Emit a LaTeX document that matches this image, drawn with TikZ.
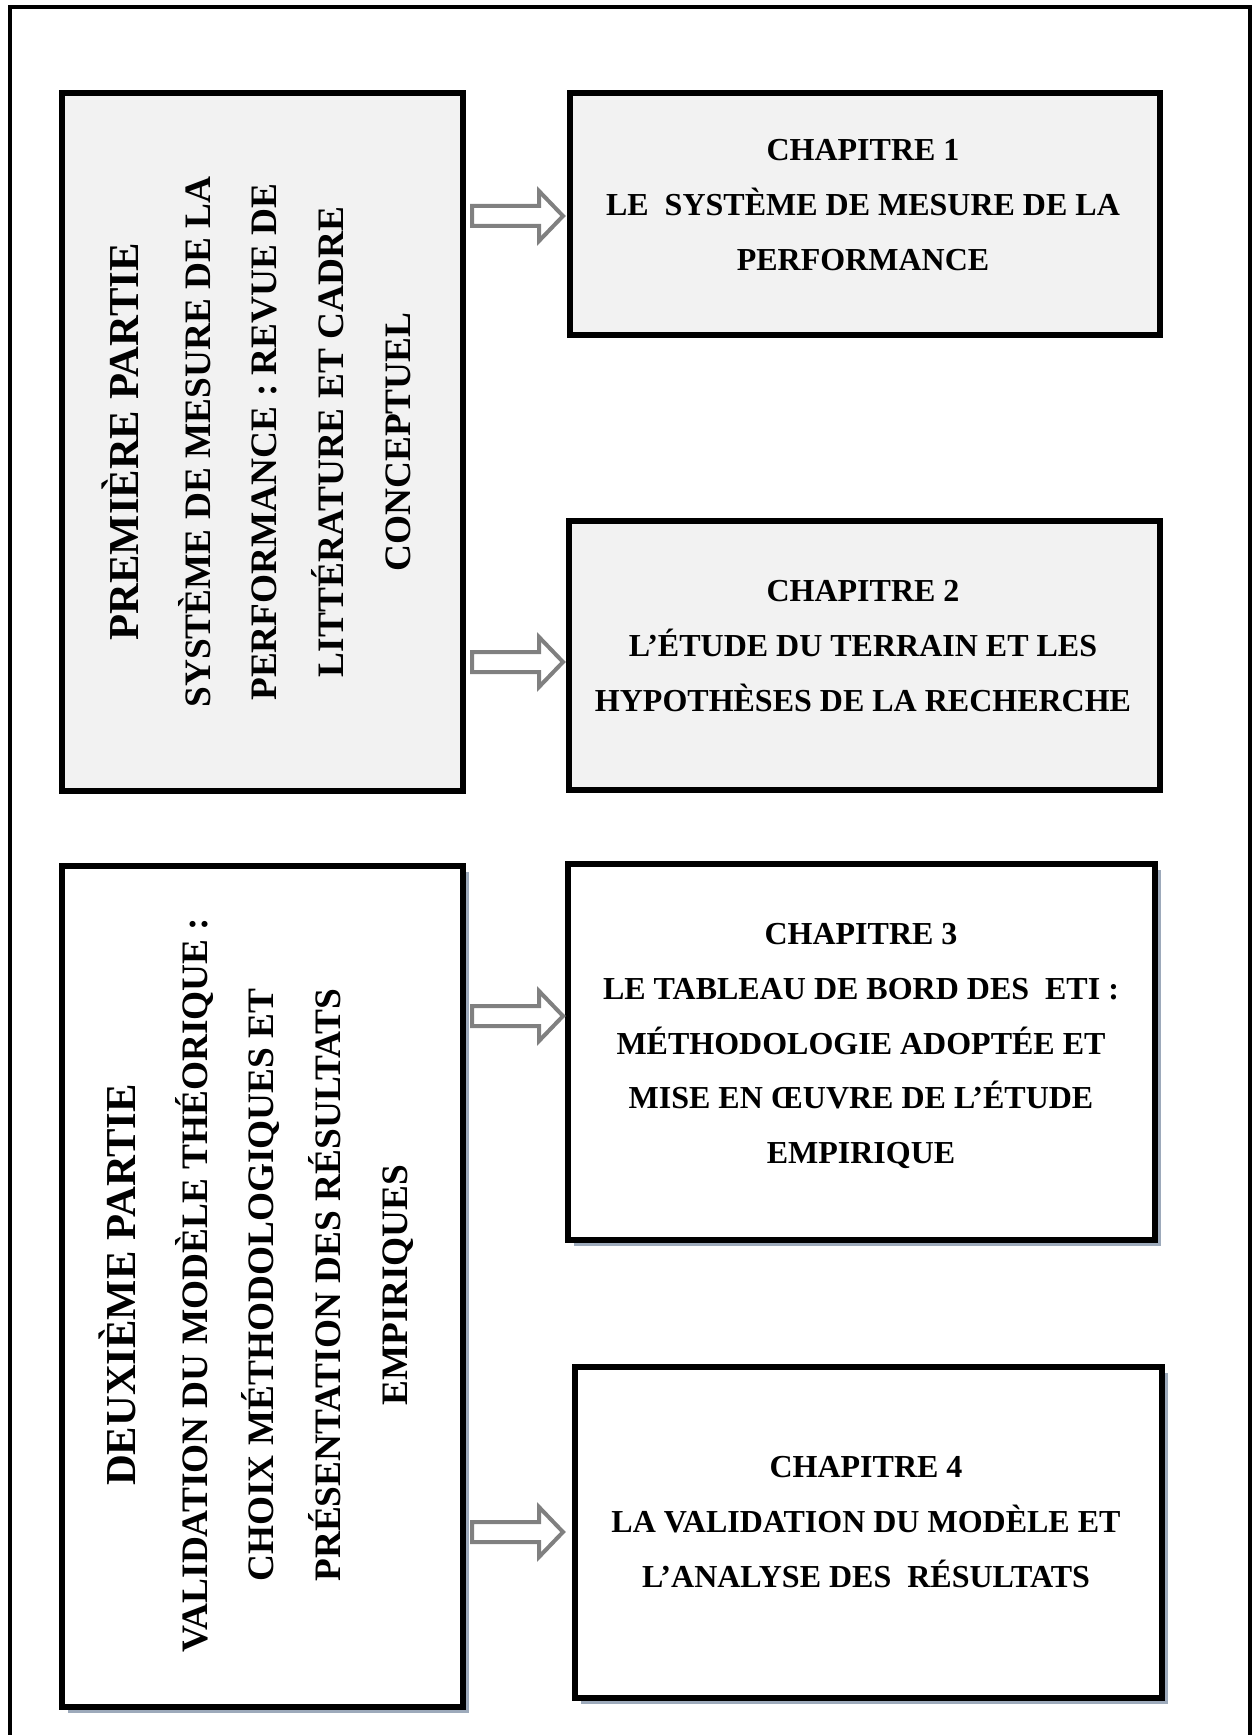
\documentclass[tikz,border=0pt]{standalone}
\usepackage{fontspec}
\setmainfont{Liberation Serif}
\usetikzlibrary{positioning,fit,calc,shadows}

\definecolor{boxgrey}{HTML}{F2F2F2}
\definecolor{arrowgrey}{HTML}{808080}
\definecolor{shadowblue}{HTML}{9DAABB}

% hollow block arrow between two named points
\newcommand{\blockarrow}[2]{%
  \draw[hollowarrow] ($(#1)+(0,-10)$) -- ($(#2)+(-24,-10)$) -- ($(#2)+(-24,-25)$)
    -- (#2) -- ($(#2)+(-24,25)$) -- ($(#2)+(-24,10)$) -- ($(#1)+(0,10)$) -- cycle;}

\begin{document}
\begin{tikzpicture}[
    x=0.375pt, y=-0.375pt,
    partbox/.style={rectangle, draw, line width=2.25pt, inner sep=0pt},
    greybox/.style={partbox, fill=boxgrey},
    whitebox/.style={partbox, fill=white, drop shadow={shadow xshift=2.4pt, shadow yshift=-2.4pt, fill=shadowblue, opacity=1}},
    chaptext/.style={align=center, font=\bfseries\fontsize{12pt}{20.6pt}\selectfont},
    parttext/.style={align=center, rotate=90, font=\bfseries\fontsize{14pt}{25pt}\selectfont},
    hollowarrow/.style={draw=arrowgrey, fill=white, line width=1.5pt, line join=miter}
]
\useasboundingbox (0,0) rectangle (1252,1735);

% Outer frame (open at the bottom)
\draw[line width=1.5pt] (10,1760) -- (10,7) -- (1249.5,7) -- (1249.5,1760);

% First part
\node[greybox, fit={(62,93) (463,791)}] (part1) {};
\node[parttext] (part1txt) at (256,442) {{\fontsize{16pt}{25pt}\selectfont PREMIÈRE PARTIE}\\[2pt]
    SYSTÈME DE MESURE DE LA\\PERFORMANCE : REVUE DE\\LITTÉRATURE ET CADRE\\CONCEPTUEL};

\node[greybox, fit={(570,93) (1160,335)}] (ch1) {};
\node[chaptext] (ch1txt) at (863,205) {CHAPITRE 1\\LE~ SYSTÈME DE MESURE DE LA\\PERFORMANCE};

\node[greybox, fit={(569,521) (1160,790)}] (ch2) {};
\node[chaptext] (ch2txt) at (863,646) {CHAPITRE 2\\L’ÉTUDE DU TERRAIN ET LES\\HYPOTHÈSES DE LA RECHERCHE};

% Second part
\node[whitebox, fit={(62,866) (463,1707)}] (part2) {};
\node[parttext] (part2txt) at (256,1285) {{\fontsize{16pt}{25pt}\selectfont DEUXIÈME PARTIE}\\[2pt]
    VALIDATION DU MODÈLE THÉORIQUE :\\CHOIX MÉTHODOLOGIQUES ET\\PRÉSENTATION DES RÉSULTATS\\EMPIRIQUES};

\node[whitebox, fit={(568,864) (1155,1240)}] (ch3) {};
\node[chaptext] (ch3txt) at (861,1046) {CHAPITRE 3\\LE TABLEAU DE BORD DES~ ETI :\\MÉTHODOLOGIE ADOPTÉE ET\\MISE EN ŒUVRE DE L’ÉTUDE\\EMPIRIQUE};

\node[whitebox, fit={(575,1367) (1162,1698)}] (ch4) {};
\node[chaptext] (ch4txt) at (866,1522) {CHAPITRE 4\\LA VALIDATION DU MODÈLE ET\\L’ANALYSE DES~ RÉSULTATS};

% Arrows from parts to chapters
\coordinate (s1) at (472,216);  \coordinate (t1) at (563,216);
\coordinate (s2) at (472,662);  \coordinate (t2) at (563,662);
\coordinate (s3) at (472,1016); \coordinate (t3) at (563,1016);
\coordinate (s4) at (472,1532); \coordinate (t4) at (563,1532);
\blockarrow{s1}{t1}
\blockarrow{s2}{t2}
\blockarrow{s3}{t3}
\blockarrow{s4}{t4}

\end{tikzpicture}
\end{document}
